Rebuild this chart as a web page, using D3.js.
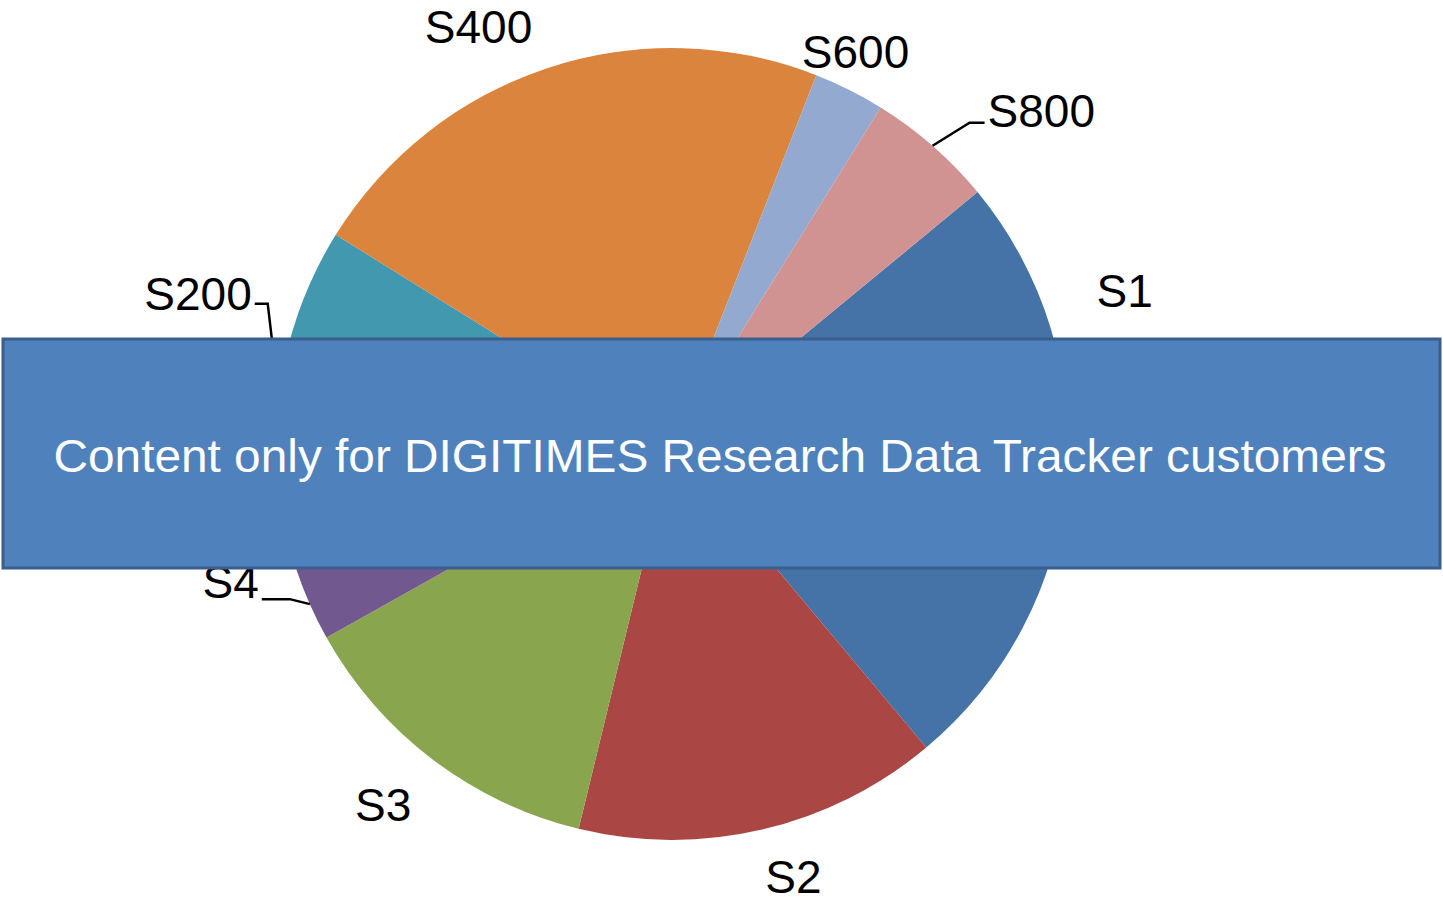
<!DOCTYPE html>
<html>
<head>
<meta charset="utf-8">
<script src="https://cdn.jsdelivr.net/npm/d3@7"></script>
<style>
  html, body { margin: 0; padding: 0; background: #fff; }
  svg { display: block; font-family: "Liberation Sans", Arial, sans-serif; }
</style>
</head>
<body>
<svg id="canvas" width="1443" height="903"></svg>
<script>
// slice names and shares (%)
var categories = ["S1", "S2", "S3", "S4", "S200", "S400", "S600", "S800"];
var values = [24.9, 14.9, 13.1, 3.0, 14.0, 22.1, 2.9, 5.2];
var colors = ["#4572A7", "#AA4643", "#89A54E", "#71588F", "#4198AF", "#DB843D", "#93A9CF", "#D19392"];

// label placement: angle nudge (deg) and distance from centre
var labelAngle = [-24, -2.5, 1.5, 0, 0, -6.5, -1.5, 0];
var labelDist = [478, 450, 462, 464, 500, 460, 433, 0];
var banner = "Content only for DIGITIMES  Research Data Tracker customers";

var svg = d3.select("#canvas");
var cx = 672, cy = 444, r = 396;
var rad = Math.PI / 180;
var start = 50.5 * rad;

var pie = d3.pie()
	.sort(null)
	.value(function(d) { return d; })
	.startAngle(start)
	.endAngle(start + 2 * Math.PI);

var arc = d3.arc().innerRadius(0).outerRadius(r);
var arcs = pie(values);

var g = svg.append("g").attr("transform", "translate(" + cx + "," + cy + ")");

g.selectAll("path.slice")
	.data(arcs)
	.enter().append("path")
	.attr("class", "slice")
	.attr("d", arc)
	.attr("fill", function(d, i) { return colors[i]; });

function pt(a, dist) {
	return [Math.sin(a) * dist, -Math.cos(a) * dist];
}
function mid(d) { return (d.startAngle + d.endAngle) / 2; }

// leader lines for the slices with pulled-out labels
var leaders = {
	"S800": function(d) { var p = pt(mid(d), r); return [p, [p[0] + 37, p[1] - 23], [p[0] + 52, p[1] - 23]]; },
	"S200": function(d) { var p = pt(mid(d), r); return [p, [p[0] - 11, p[1] - 94], [p[0] - 24, p[1] - 94]]; },
	"S4": function(d) { var p = pt(mid(d), r); return [p, [p[0] - 20, p[1] - 5], [p[0] - 48, p[1] - 5]]; }
};
var leaderDy = { "S800": 4, "S200": 6, "S4": -1 };

var line = d3.line();
arcs.forEach(function(d, i) {
	var name = categories[i];
	var x, y, anchor = "middle";
	if (leaders[name]) {
		var pts = leaders[name](d);
		g.append("path")
			.attr("d", line(pts))
			.attr("fill", "none")
			.attr("stroke", "#000")
			.attr("stroke-width", 2.5);
		var end = pts[pts.length - 1];
		if (name === "S800") { x = end[0] + 3; anchor = "start"; }
		else { x = end[0] - 3; anchor = "end"; }
		y = end[1] + leaderDy[name];
	} else {
		var p = pt(mid(d) + labelAngle[i] * rad, labelDist[i]);
		x = p[0]; y = p[1] + 16;
	}
	g.append("text")
		.attr("x", x)
		.attr("y", y)
		.attr("text-anchor", anchor)
		.attr("font-size", 46)
		.attr("fill", "#000")
		.text(name);
});

// watermark banner on top
svg.append("rect")
	.attr("x", 3).attr("y", 339)
	.attr("width", 1437).attr("height", 229)
	.attr("fill", "#4F81BD")
	.attr("stroke", "#3A5F8D")
	.attr("stroke-width", 3);

svg.append("text")
	.attr("x", 720)
	.attr("y", 472)
	.attr("text-anchor", "middle")
	.attr("font-size", 46)
	.attr("fill", "#fff")
	.attr("textLength", 1333)
	.attr("lengthAdjust", "spacingAndGlyphs")
	.text(banner);
</script>
</body>
</html>
